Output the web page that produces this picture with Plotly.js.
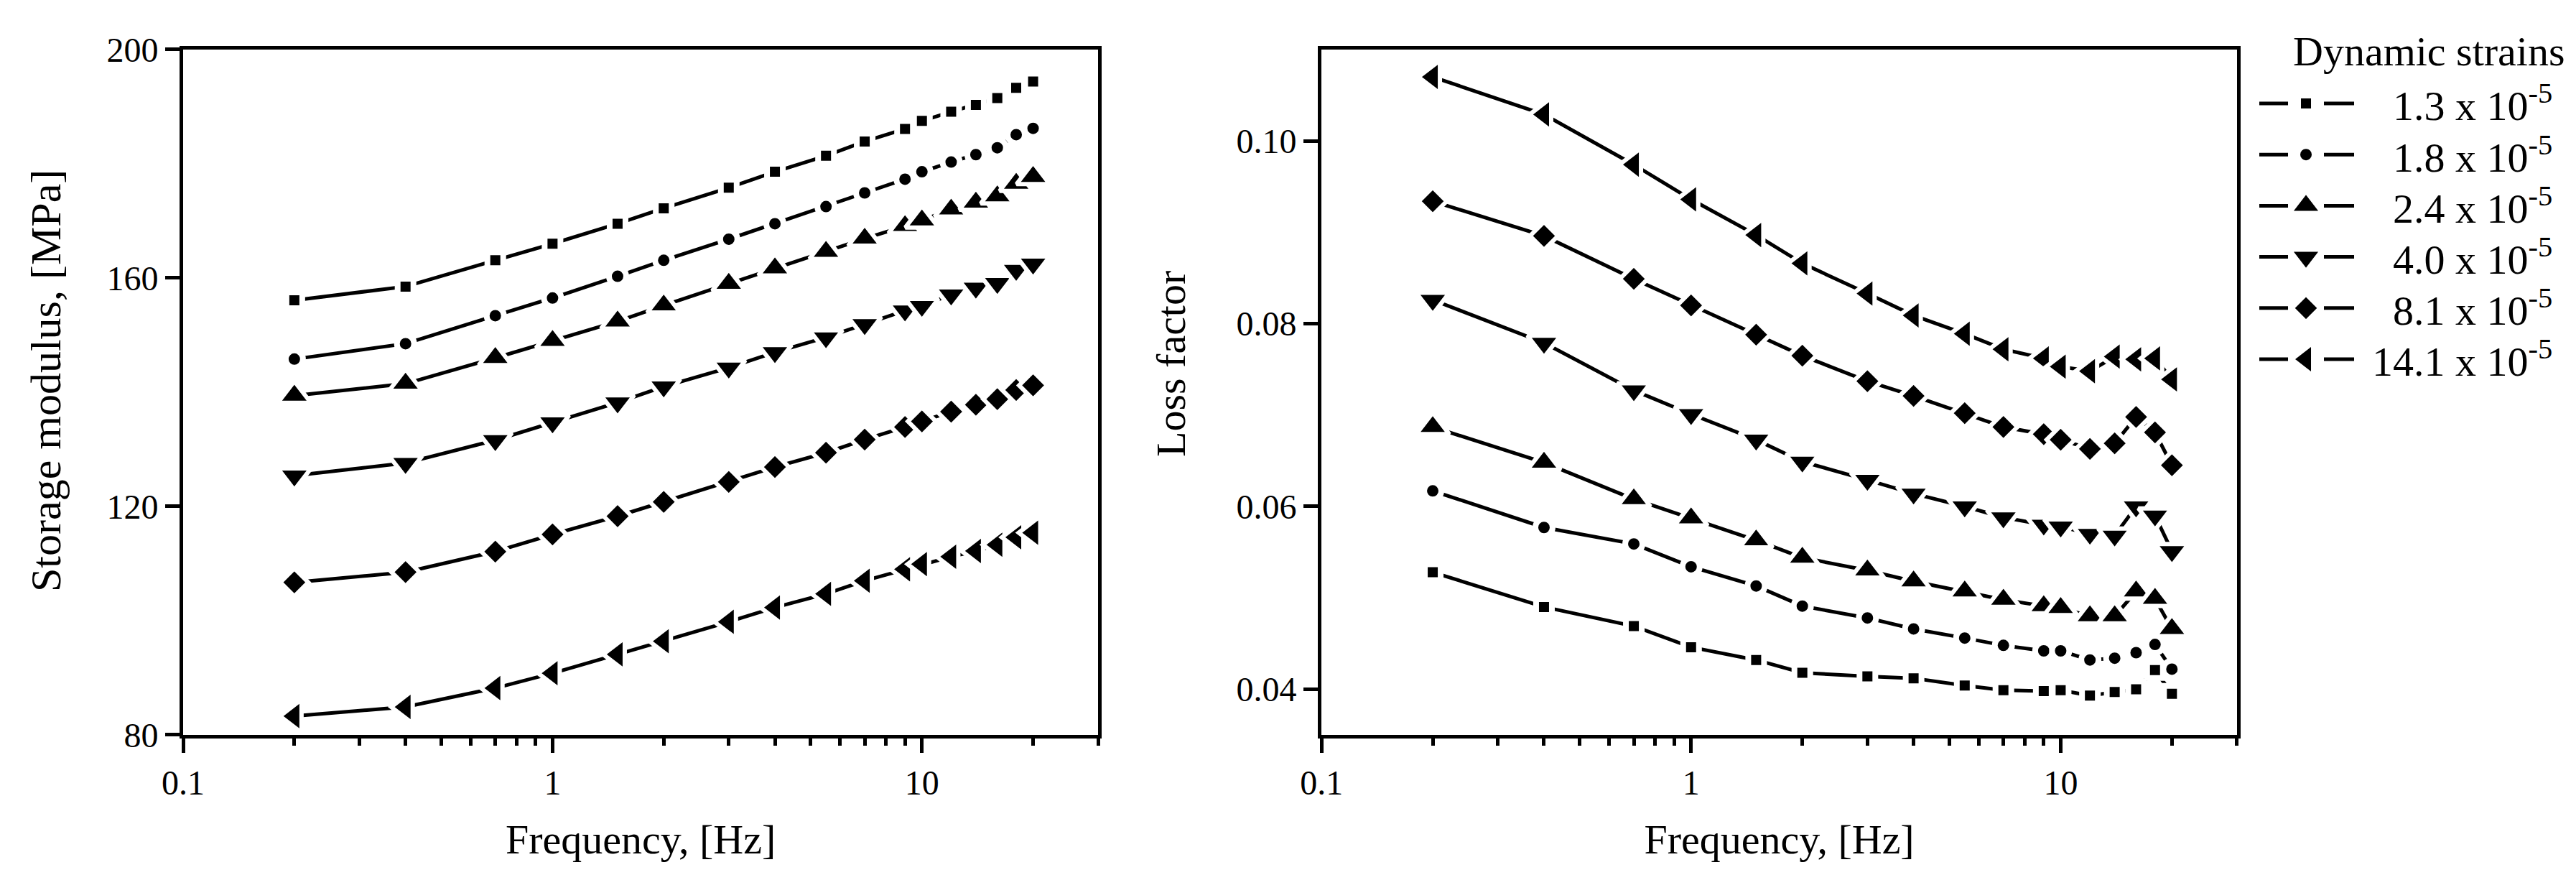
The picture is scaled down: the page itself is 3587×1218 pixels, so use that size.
<!DOCTYPE html>
<html>
<head>
<meta charset="utf-8">
<script src="https://cdn.plot.ly/plotly-3.0.1.min.js"></script>
<style>
  html, body { margin: 0; padding: 0; background: #fff; }
  #chart { width: 3587px; height: 1218px; }
</style>
</head>
<body>
<div id="chart"></div>
<script>
// frequencies [Hz], same for both panels
const freq = [0.2, 0.4, 0.7, 1, 1.5, 2, 3, 4, 5.5, 7, 9, 10, 12, 14, 16, 18, 20];

// legend labels (dynamic strain, x 10^-5)
const strainLabels = ["1.3", "1.8", "2.4", "4.0", "8.1", "14.1"];

// storage modulus [MPa]
const storage13 = [156.1, 158.5, 163.1, 166.0, 169.5, 172.2, 175.8, 178.6, 181.4, 183.9, 186.1, 187.5, 189.1, 190.3, 191.5, 193.3, 194.4];
const storage18 = [145.8, 148.5, 153.4, 156.5, 160.3, 163.1, 166.8, 169.5, 172.5, 174.9, 177.3, 178.6, 180.3, 181.6, 182.8, 185.1, 186.2];
const storage24 = [139.4, 141.5, 146.0, 149.0, 152.4, 155.2, 159.0, 161.7, 164.6, 166.9, 169.1, 170.1, 172.0, 173.2, 174.3, 176.5, 177.7];
const storage40 = [125.4, 127.6, 131.6, 134.7, 138.2, 141.0, 144.3, 147.0, 149.6, 151.9, 154.3, 155.1, 157.1, 158.3, 159.1, 161.4, 162.5];
const storage81 = [106.7, 108.5, 112.1, 115.1, 118.3, 120.8, 124.3, 126.9, 129.4, 131.7, 133.9, 134.9, 136.6, 137.8, 138.8, 140.4, 141.2];
const storage141 = [83.3, 84.9, 88.2, 90.8, 94.1, 96.4, 99.8, 102.3, 104.7, 107.0, 109.0, 109.9, 111.2, 112.2, 113.3, 114.6, 115.4];

// loss factor
const loss13 = [0.0528, 0.0490, 0.0469, 0.0446, 0.0432, 0.0418, 0.0414, 0.0412, 0.0404, 0.0399, 0.0398, 0.0399, 0.0393, 0.0397, 0.0400, 0.0421, 0.0395];
const loss18 = [0.0617, 0.0577, 0.0559, 0.0534, 0.0513, 0.0491, 0.0478, 0.0466, 0.0456, 0.0448, 0.0442, 0.0442, 0.0432, 0.0434, 0.0440, 0.0449, 0.0422];
const loss24 = [0.0687, 0.0648, 0.0608, 0.0587, 0.0563, 0.0544, 0.0530, 0.0518, 0.0507, 0.0498, 0.0491, 0.0489, 0.0480, 0.0480, 0.0507, 0.0499, 0.0466];
const loss40 = [0.0826, 0.0779, 0.0727, 0.0701, 0.0673, 0.0649, 0.0629, 0.0614, 0.0600, 0.0588, 0.0580, 0.0578, 0.0570, 0.0568, 0.0600, 0.0590, 0.0551];
const loss81 = [0.0934, 0.0896, 0.0849, 0.0820, 0.0788, 0.0765, 0.0737, 0.0721, 0.0702, 0.0687, 0.0679, 0.0673, 0.0663, 0.0669, 0.0698, 0.0681, 0.0645];
const loss141 = [0.1070, 0.1029, 0.0974, 0.0936, 0.0897, 0.0866, 0.0833, 0.0809, 0.0789, 0.0772, 0.0762, 0.0753, 0.0748, 0.0764, 0.0761, 0.0762, 0.0739];

const storageSeries = [storage13, storage18, storage24, storage40, storage81, storage141];
const lossSeries = [loss13, loss18, loss24, loss40, loss81, loss141];

// marker look per series; the white outline cuts the gap in the line around each symbol
const symbols = ["square", "circle", "triangle-up", "triangle-down", "diamond", "triangle-left"];
const sizes = [22, 24, 40, 40, 30, 40];
const gaps = [8, 8, 6, 6, 6, 6];

const FONT = "Liberation Serif, Times New Roman, serif";

function makeTrace(ys, i, xa, ya) {
  return {
    x: freq,
    y: ys,
    xaxis: xa,
    yaxis: ya,
    mode: "lines+markers",
    showlegend: false,
    line: { color: "black", width: 5 },
    marker: {
      symbol: symbols[i],
      size: sizes[i],
      color: "black",
      line: { color: "white", width: gaps[i] }
    },
    hoverinfo: "skip"
  };
}

const traces = [];
storageSeries.forEach((ys, i) => traces.push(makeTrace(ys, i, "x", "y")));
lossSeries.forEach((ys, i) => traces.push(makeTrace(ys, i, "x2", "y2")));

// ---- legend, drawn on a hidden pixel-scaled axis pair (1 unit = 1 px) ----
const LEG_ROW0 = 104, LEG_STEP = 71.2;        // row centres
const LEG_LINE = [0, 40, null, 90, 132];      // sample line, broken round the symbol
const LEG_MARK = 65, LEG_TEXT_RIGHT = 410;
const annotations = [];

strainLabels.forEach((lab, i) => {
  const yRow = LEG_ROW0 + i * LEG_STEP;
  traces.push({
    x: LEG_LINE, y: LEG_LINE.map(v => v === null ? null : yRow),
    xaxis: "x3", yaxis: "y3", mode: "lines", showlegend: false, hoverinfo: "skip",
    line: { color: "black", width: 5 }
  });
  traces.push({
    x: [LEG_MARK], y: [yRow],
    xaxis: "x3", yaxis: "y3", mode: "markers", showlegend: false, hoverinfo: "skip",
    marker: { symbol: symbols[i], size: sizes[i], color: "black", line: { color: "white", width: gaps[i] } }
  });
  annotations.push({
    xref: "x3", yref: "y3", x: LEG_TEXT_RIGHT, y: yRow,
    xanchor: "right", yanchor: "middle", showarrow: false,
    text: lab + " x 10<sup>-5</sup>",
    font: { family: FONT, size: 58, color: "black" }
  });
});
annotations.push({
  xref: "x3", yref: "y3", x: 45, y: 32,
  xanchor: "left", yanchor: "middle", showarrow: false,
  text: "Dynamic strains",
  font: { family: FONT, size: 58, color: "black" }
});

// y titles sit a little above the middle of the axes, as in the source figure
annotations.push({
  xref: "paper", yref: "paper", x: 64 / 3587, y: 1 - 530 / 1218,
  xanchor: "center", yanchor: "middle", showarrow: false, textangle: -90,
  text: "Storage modulus, [MPa]",
  font: { family: FONT, size: 60, color: "black" }
});
annotations.push({
  xref: "paper", yref: "paper", x: 1630 / 3587, y: 1 - 507 / 1218,
  xanchor: "center", yanchor: "middle", showarrow: false, textangle: -90,
  text: "Loss factor",
  font: { family: FONT, size: 58, color: "black" }
});

// minor ticks at 2..9 of every decade
const minorVals = [];
[0.1, 1, 10].forEach(d => {
  for (let k = 2; k <= 9; k++) if (d * k <= 30) minorVals.push(d * k);
});

function xAxis(domain, anchor) {
  return {
    type: "log",
    domain: domain,
    anchor: anchor,
    range: [-1, Math.log10(30)],
    showline: true, linecolor: "black", linewidth: 5, mirror: true,
    showgrid: false, zeroline: false,
    ticks: "outside", ticklen: 20, tickwidth: 5, tickcolor: "black",
    tickmode: "array", tickvals: [0.1, 1, 10], ticktext: ["0.1", "1", "10"],
    tickfont: { family: FONT, size: 48, color: "black" },
    minor: { tickmode: "array", tickvals: minorVals, ticks: "outside", ticklen: 10, tickwidth: 5, tickcolor: "black", showgrid: false },
    title: { text: "Frequency, [Hz]", font: { family: FONT, size: 58, color: "black" }, standoff: 34 }
  };
}

function yAxis(range, tick0, dtick, anchor, fmt) {
  return {
    domain: [0.1601, 0.9434],
    anchor: anchor,
    range: range,
    tick0: tick0,
    dtick: dtick,
    tickformat: fmt,
    showline: true, linecolor: "black", linewidth: 5, mirror: true,
    showgrid: false, zeroline: false,
    ticks: "outside", ticklen: 20, tickwidth: 5, tickcolor: "black",
    tickfont: { family: FONT, size: 48, color: "black" }
  };
}

const layout = {
  width: 3587,
  height: 1218,
  margin: { l: 0, r: 0, t: 0, b: 0 },
  paper_bgcolor: "white",
  plot_bgcolor: "white",
  font: { family: FONT, color: "black" },
  showlegend: false,
  xaxis: xAxis([0.0711, 0.4263], "y"),
  yaxis: yAxis([80, 200], 80, 40, "x", "d"),
  xaxis2: xAxis([0.5130, 0.8684], "y2"),
  yaxis2: yAxis([0.035, 0.11], 0.04, 0.02, "x2", ".2f"),
  xaxis3: { domain: [0.87706, 0.99415], anchor: "y3", range: [0, 420], visible: false, fixedrange: true },
  yaxis3: { domain: [0.55665, 0.96716], anchor: "x3", range: [500, 0], visible: false, fixedrange: true },
  annotations: annotations
};

Plotly.newPlot("chart", traces, layout, { staticPlot: true });
</script>
</body>
</html>
